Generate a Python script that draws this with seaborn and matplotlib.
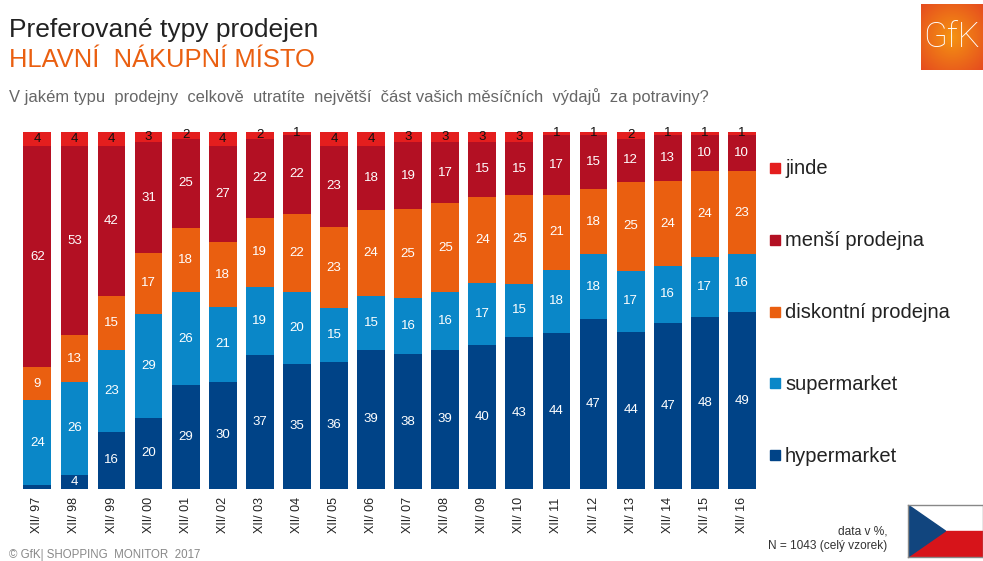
import numpy as np
import pandas as pd
import matplotlib
matplotlib.use('Agg')
import matplotlib.pyplot as plt
from matplotlib.patches import Polygon, Rectangle
import seaborn as sns

years = ['97', '98', '99', '00', '01', '02', '03', '04', '05', '06',
         '07', '08', '09', '10', '11', '12', '13', '14', '15', '16']
hypermarket = [1, 4, 16, 20, 29, 30, 37, 35, 36, 39, 38, 39, 40, 43, 44, 47, 44, 47, 48, 49]
supermarket = [24, 26, 23, 29, 26, 21, 19, 20, 15, 15, 16, 16, 17, 15, 18, 18, 17, 16, 17, 16]
diskontni = [9, 13, 15, 17, 18, 18, 19, 22, 23, 24, 25, 25, 24, 25, 21, 18, 25, 24, 24, 23]
mensi = [62, 53, 42, 31, 25, 27, 22, 22, 23, 18, 19, 17, 15, 15, 17, 15, 12, 13, 10, 10]
jinde = [4, 4, 4, 3, 2, 4, 2, 1, 4, 4, 3, 3, 3, 3, 1, 1, 2, 1, 1, 1]

series_names = ['hypermarket', 'supermarket', 'diskontní prodejna', 'menší prodejna', 'jinde']
series_values = [hypermarket, supermarket, diskontni, mensi, jinde]
colors = ['#004387', '#0A87C8', '#EA5F10', '#B31023', '#E41E1E']
labels = ['XII/ ' + y for y in years]

sns.set_theme(style='white')
plt.rcParams['font.family'] = ['Liberation Sans', 'DejaVu Sans']

W, H = 983, 561
fig = plt.figure(figsize=(W / 100, H / 100), dpi=100)
ax = fig.add_axes([18.8 / W, 1 - 489 / H, 741.6 / W, 357.5 / H])

# bars fill the full height, rounded sums are rescaled to 100 %
totals = np.sum(series_values, axis=0)
bottom = np.zeros(len(years))
for name, vals, col in zip(series_names, series_values, colors):
    share = np.array(vals) / totals * 100
    df = pd.DataFrame({'rok': labels, 'podil': share})
    sns.barplot(data=df, x='rok', y='podil', color=col, width=0.75, bottom=bottom,
                saturation=1, linewidth=0, ax=ax)
    for i, v in enumerate(vals):
        if v < 2 and name == 'hypermarket':
            continue
        txt_col = '#111111' if name == 'jinde' else 'white'
        ax.text(i, bottom[i] + share[i] / 2, str(v), ha='center', va='center',
                color=txt_col, fontsize=9.5)
    bottom = bottom + share

ax.set_xlim(-0.5, 19.5)
ax.set_ylim(0, 100)
ax.set_xlabel('')
ax.set_ylabel('')
ax.set_yticks([])
ax.tick_params(axis='x', length=0, pad=6, labelsize=9, labelrotation=90, labelcolor='#222222')
sns.despine(ax=ax, left=True, bottom=True)


def px(x, y):
    return x / W, 1 - y / H


# titles
fig.text(*px(9, 30), 'Preferované typy prodejen', fontsize=19, color='#222222', va='center')
fig.text(*px(9, 60), 'HLAVNÍ  NÁKUPNÍ MÍSTO', fontsize=18.4, color='#EA5F10', va='center')
fig.text(*px(9, 97), 'V jakém typu  prodejny  celkově  utratíte  největší  část vašich měsíčních  výdajů  za potraviny?',
         fontsize=11.9, color='#666666', va='center')

# legend by hand, spaced out along the bars
legend_y = [455, 383, 312, 240, 168]
for name, col, y in zip(series_names, colors, legend_y):
    x0, y0 = px(770, y + 5)
    fig.patches.append(Rectangle((x0, y0), 10 / W, 10 / H, transform=fig.transFigure,
                                 color=col, figure=fig))
    fig.text(*px(785, y + 1), name, fontsize=14.5, color='#222222', va='center')

# footnotes
fig.text(*px(887, 532), 'data v %,', fontsize=8.6, color='#333333', ha='right', va='center')
fig.text(*px(887, 546), 'N = 1043 (celý vzorek)', fontsize=8.6, color='#333333', ha='right', va='center')
fig.text(*px(9, 555), '© GfK| SHOPPING  MONITOR  2017', fontsize=8.3, color='#888888', va='center')

# GfK logo
logo = fig.add_axes([921 / W, 1 - 70 / H, 62 / W, 66 / H])
yy, xx = np.mgrid[-1:1:60j, -1:1:60j]
dist = np.clip(np.sqrt(xx ** 2 + yy ** 2) / 1.4, 0, 1)[..., None]
inner = np.array([0.96, 0.58, 0.07])
outer = np.array([0.90, 0.30, 0.12])
logo.imshow(inner * (1 - dist) + outer * dist, extent=(0, 1, 0, 1), aspect='auto')
logo.text(0.5, 0.49, 'GfK', color='white', fontsize=25, ha='center', va='center',
          family='Roboto', fontweight='light')
logo.axis('off')

# Czech flag
flag = fig.add_axes([908 / W, 1 - 557 / H, 75 / W, 52 / H])
flag.set_xlim(0, 1)
flag.set_ylim(0, 1)
flag.add_patch(Rectangle((0, 0.5), 1, 0.5, color='white'))
flag.add_patch(Rectangle((0, 0), 1, 0.5, color='#D7141A'))
flag.add_patch(Polygon([(0, 0), (0, 1), (0.5, 0.5)], color='#11457E'))
flag.set_xticks([])
flag.set_yticks([])
for s in flag.spines.values():
    s.set_color('#888888')
    s.set_linewidth(1)

fig.savefig('out.png', dpi=100)
